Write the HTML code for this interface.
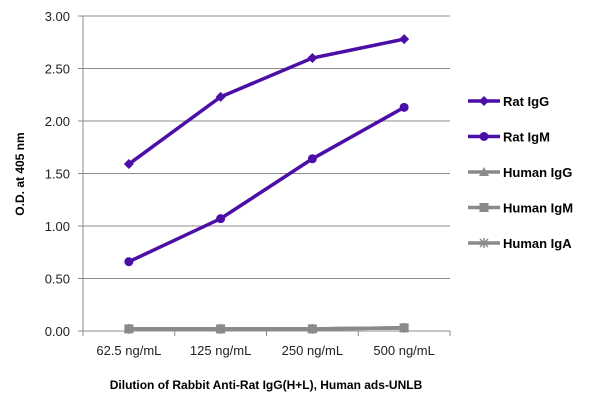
<!DOCTYPE html>
<html><head><meta charset="utf-8"><style>
body{margin:0;background:#fff;font-family:"Liberation Sans",sans-serif}
text{font-family:"Liberation Sans",sans-serif}
</style></head><body>
<svg id="c" width="600" height="406" xmlns="http://www.w3.org/2000/svg"></svg>
<script>
const categories=["62.5 ng/mL","125 ng/mL","250 ng/mL","500 ng/mL"];
const ratIgG=[1.59,2.23,2.60,2.78];
const ratIgM=[0.66,1.07,1.64,2.13];
const humanIgG=[0.02,0.02,0.02,0.03];
const humanIgM=[0.02,0.02,0.02,0.03];
const humanIgA=[0.02,0.02,0.02,0.03];
const yTicks=[0,0.5,1,1.5,2,2.5,3];
const seriesNames=["Rat IgG","Rat IgM","Human IgG","Human IgM","Human IgA"];
const NS="http://www.w3.org/2000/svg",svg=document.getElementById('c');
const L=83,R=450,T=16,B=331;
const y=v=>B-(v/3)*(B-T);
const x=i=>L+(i+0.5)*(R-L)/categories.length;
function mk(t,a,p){const e=document.createElementNS(NS,t);for(const k in a)e.setAttribute(k,a[k]);(p||svg).appendChild(e);return e;}
yTicks.forEach(v=>{
 const g=mk('line',{x1:78,x2:R,y1:y(v),y2:y(v),stroke:'#8c8c8c','stroke-width':1});
 
 
 const t=mk('text',{x:70,y:y(v)+5,'text-anchor':'end','font-size':13,fill:'#222'});t.textContent=v.toFixed(2);
 
 
});
const ax=mk('line',{x1:L,x2:L,y1:T,y2:B,stroke:'#8c8c8c'});


for(let i=0;i<=categories.length;i++){const tk=mk('line',{x1:L+i*(R-L)/4,x2:L+i*(R-L)/4,y1:B,y2:B+5,stroke:'#8c8c8c'});
 
 }
categories.forEach((c,i)=>{const t=mk('text',{x:x(i),y:355,'text-anchor':'middle','font-size':13,fill:'#222'});t.textContent=c;
 
 });
function marker(type,cx,cy,col,p){
 if(type==='diamond')return mk('polygon',{points:`${cx},${cy-5} ${cx+5},${cy} ${cx},${cy+5} ${cx-5},${cy}`,fill:col},p);
 if(type==='circle')return mk('circle',{cx,cy,r:4.5,fill:col},p);
 if(type==='tri')return mk('polygon',{points:`${cx},${cy-5} ${cx+5},${cy+4} ${cx-5},${cy+4}`,fill:col},p);
 if(type==='square')return mk('rect',{x:cx-4.5,y:cy-4.5,width:9,height:9,fill:col},p);
 return mk('path',{d:`M${cx-4} ${cy-4}L${cx+4} ${cy+4}M${cx+4} ${cy-4}L${cx-4} ${cy+4}M${cx} ${cy-5}V${cy+5}`,stroke:col,'stroke-width':1.5},p);
}
const data=[ratIgG,ratIgM,humanIgG,humanIgM,humanIgA];
const cols=['#4b0ea6','#4b0ea6','#8a8a8a','#8a8a8a','#8a8a8a'];
const marks=['diamond','circle','tri','square','x'];
const names=['series-rat-igg','series-rat-igm','series-human-igg','series-human-igm','series-human-iga'];
[4,3,2,1,0].forEach(s=>{
 const g=mk('g',{});
 
 
 mk('polyline',{points:data[s].map((v,i)=>x(i)+','+y(v)).join(' '),fill:'none',stroke:cols[s],'stroke-width':3.5},g);
 data[s].forEach((v,i)=>{const m=marker(marks[s],x(i),y(v),cols[s],g);
  
  });
});
seriesNames.forEach((n,s)=>{
 const ly=101+s*35.5;
 const g=mk('g',{});
 
 
 mk('line',{x1:468,x2:500,y1:ly,y2:ly,stroke:cols[s],'stroke-width':3.5},g);
 marker(marks[s],484,ly,cols[s],g);
 const t=mk('text',{x:503,y:ly+5,'font-size':13,'font-weight':'bold',fill:'#000'},g);t.textContent=n;
});
const yt=mk('text',{x:0,y:0,'font-size':12,'font-weight':'bold','text-anchor':'middle',transform:'translate(24,174) rotate(-90)'});yt.textContent='O.D. at 405 nm';


const xt=mk('text',{x:266,y:389,'font-size':12,'font-weight':'bold','text-anchor':'middle'});xt.textContent='Dilution of Rabbit Anti-Rat IgG(H+L), Human ads-UNLB';


</script>
</body></html>
